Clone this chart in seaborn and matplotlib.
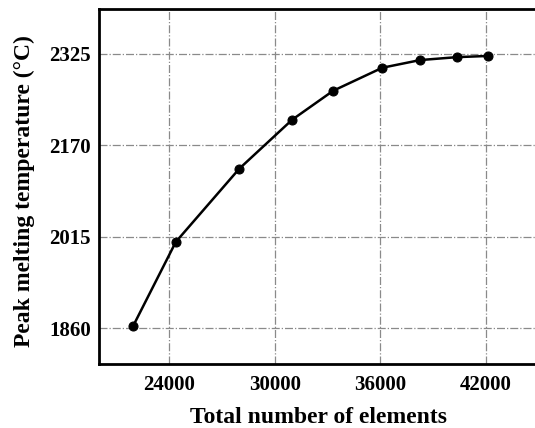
import numpy as np
import pandas as pd
import matplotlib
matplotlib.use("Agg")
import matplotlib.pyplot as plt
from matplotlib.ticker import MultipleLocator
import seaborn as sns

# Data
elements = [21950, 24370, 27980, 30990, 33320, 36115, 38265, 40385, 42150]
peak_temp = [1864, 2006, 2130, 2213, 2262, 2301, 2314, 2319, 2321]
x_ticks = [24000, 30000, 36000, 42000]
y_ticks = [1860, 2015, 2170, 2325]

df = pd.DataFrame({"elements": elements, "temp": peak_temp})

sns.set_style("white")
plt.rcParams['font.family'] = ['Liberation Serif', 'DejaVu Serif']
plt.rcParams['font.weight'] = 'bold'
plt.rcParams['text.color'] = 'black'
plt.rcParams['axes.labelcolor'] = 'black'

fig = plt.figure(figsize=(5.35, 4.28), dpi=100)
# axes box: left 99px, bottom 363.5px, top 9.3px, right just off the image
ax = fig.add_axes([99 / 535, 1 - 363.5 / 428, 439.5 / 535, 354.2 / 428])

sns.lineplot(data=df, x="elements", y="temp", ax=ax, color="black",
             linewidth=1.8, marker="o", markersize=6.5, markeredgecolor="black")

ax.set_xlim(20000, 45000)
ax.set_ylim(1800, 2400)
ax.set_xticks(x_ticks)
ax.set_yticks(y_ticks)
ax.xaxis.set_minor_locator(MultipleLocator(3000))

ax.grid(True, which="major", color="#8a8a8a", linestyle="-.", linewidth=0.9)
ax.set_axisbelow(True)

for s in ax.spines.values():
    s.set_color("black")
    s.set_linewidth(2)

ax.tick_params(axis="x", which="major", direction="in", length=4, width=2, pad=8,
               labelsize=15, colors="black")
ax.tick_params(axis="x", which="minor", direction="in", length=3, width=2)
ax.tick_params(axis="y", which="major", direction="in", length=0, pad=6,
               labelsize=15, colors="black")
for lab in ax.get_xticklabels() + ax.get_yticklabels():
    lab.set_fontweight("bold")

ax.set_xlabel("Total number of elements", fontsize=17, fontweight="bold",
              labelpad=9, color="black")
ax.set_ylabel("Peak melting temperature (°C)", fontsize=17, fontweight="bold",
              labelpad=10, color="black")
ax.yaxis.label.set_y(0.487)

fig.savefig("out.png", dpi=100)
